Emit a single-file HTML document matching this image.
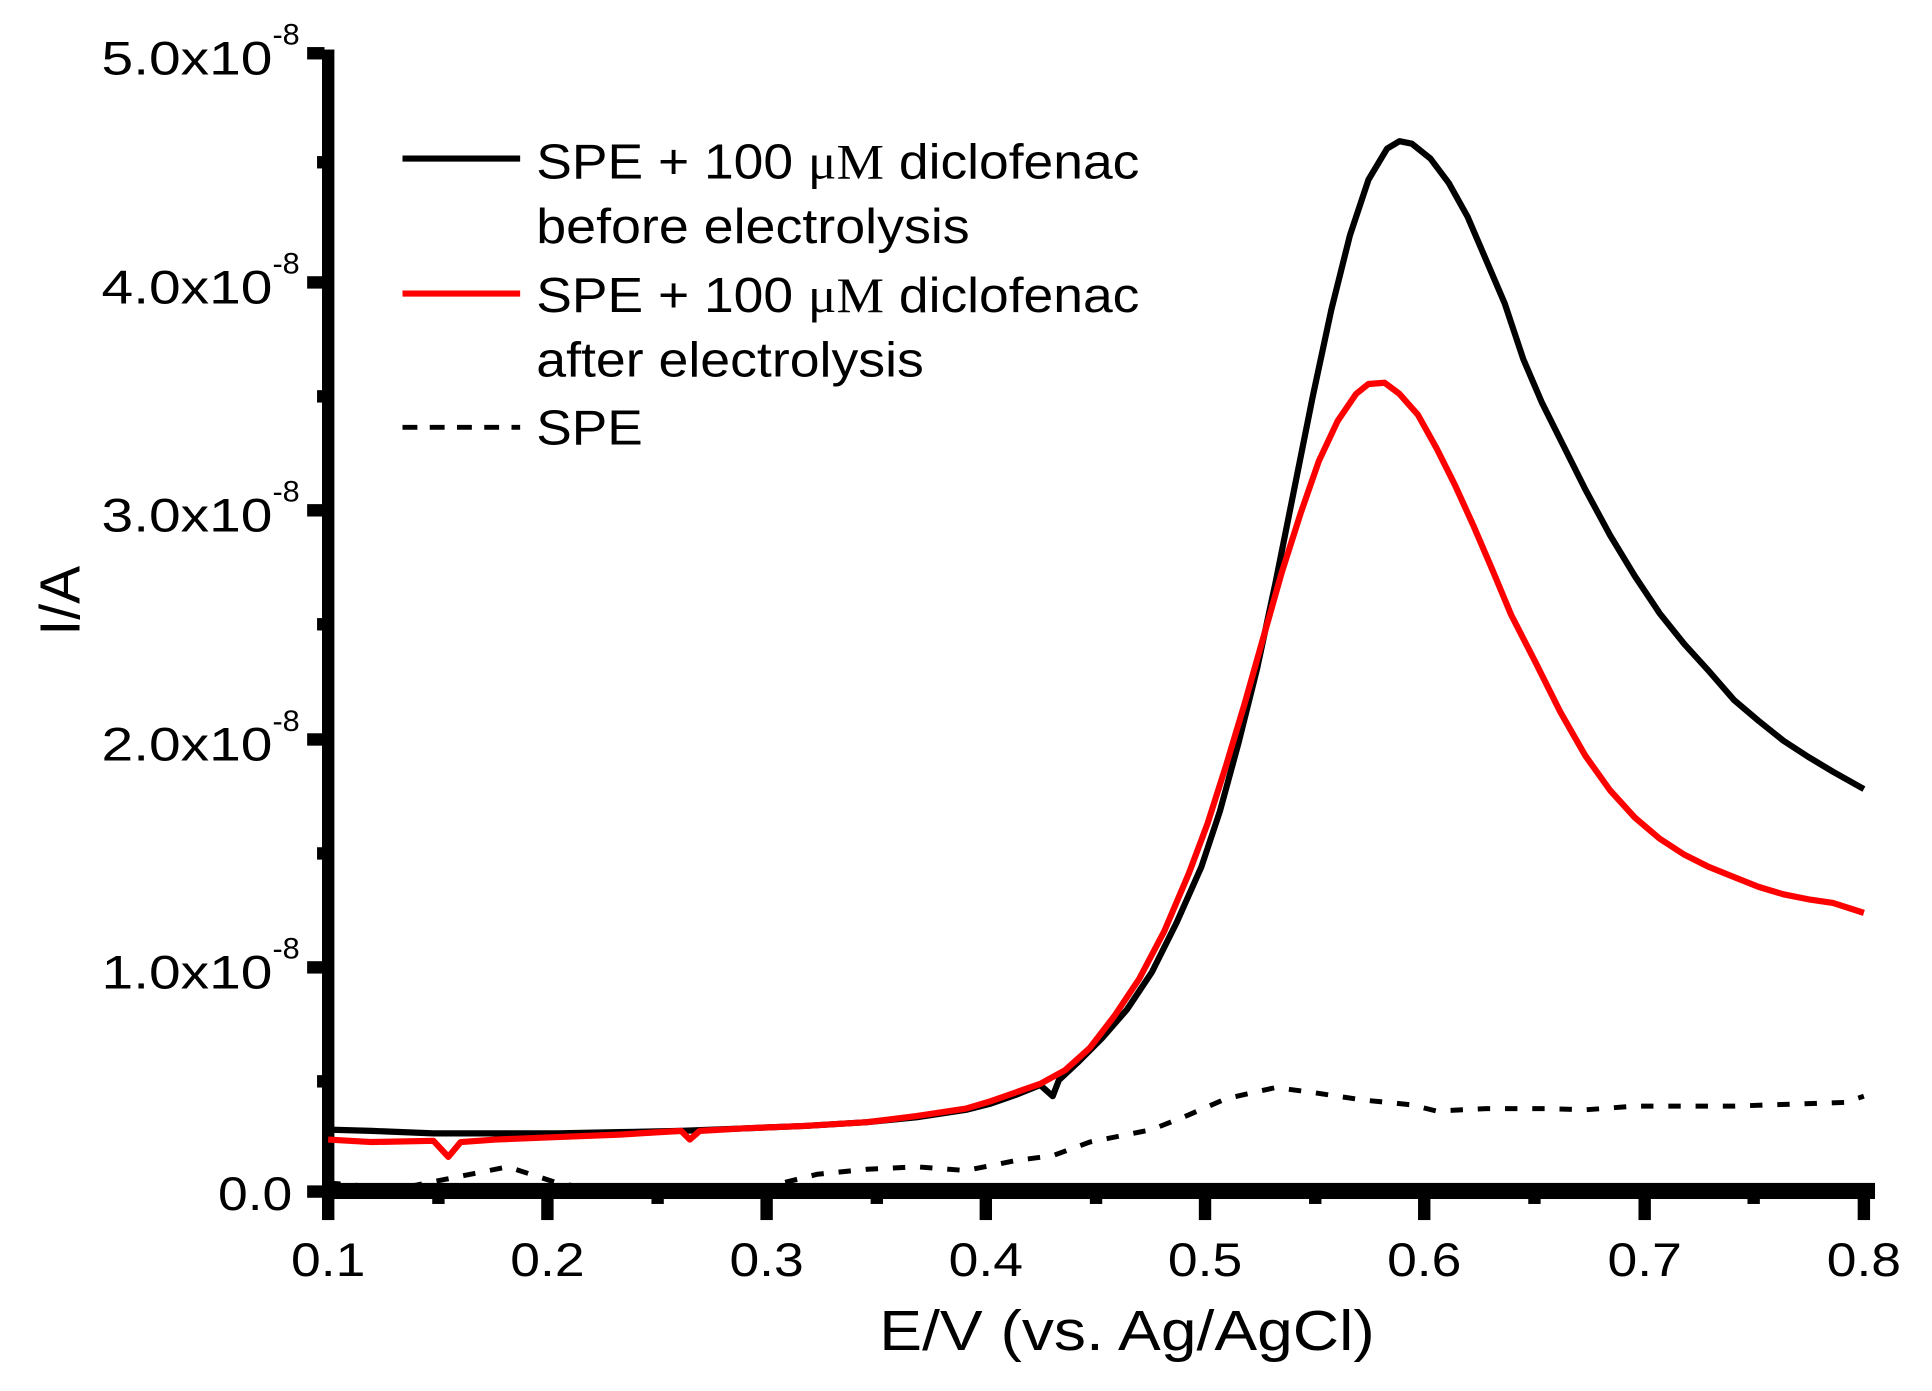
<!DOCTYPE html>
<html><head><meta charset="utf-8"><style>
html,body{margin:0;padding:0;background:#fff;}
svg{display:block;}
text{font-family:"Liberation Sans",Arial,sans-serif;fill:#000;}
</style></head><body>
<svg width="1932" height="1391" viewBox="0 0 1560 1123" preserveAspectRatio="none">
<rect x="260" y="40" width="10" height="928" fill="#000"/>
<rect x="260" y="955" width="1254" height="13" fill="#000"/>
<g fill="#000">
<rect x="248" y="38" width="14" height="10"/>
<rect x="248" y="223" width="14" height="10"/>
<rect x="248" y="407" width="14" height="10"/>
<rect x="248" y="592" width="14" height="10"/>
<rect x="248" y="776" width="14" height="10"/>
<rect x="248" y="957" width="14" height="10"/>
<rect x="256" y="126" width="5" height="10"/>
<rect x="256" y="315" width="5" height="10"/>
<rect x="256" y="499" width="5" height="10"/>
<rect x="256" y="684" width="5" height="10"/>
<rect x="256" y="868" width="5" height="10"/>
</g>
<g fill="#000">
<rect x="260" y="965" width="10" height="20"/>
<rect x="437" y="965" width="10" height="20"/>
<rect x="614" y="965" width="10" height="20"/>
<rect x="791" y="965" width="10" height="20"/>
<rect x="968" y="965" width="10" height="20"/>
<rect x="1145" y="965" width="10" height="20"/>
<rect x="1323" y="965" width="10" height="20"/>
<rect x="1500" y="965" width="10" height="20"/>
<rect x="349" y="965" width="10" height="7"/>
<rect x="526" y="965" width="10" height="7"/>
<rect x="703" y="965" width="10" height="7"/>
<rect x="880" y="965" width="10" height="7"/>
<rect x="1057" y="965" width="10" height="7"/>
<rect x="1234" y="965" width="10" height="7"/>
<rect x="1411" y="965" width="10" height="7"/>
</g>
<g font-size="38">
<text x="82" y="60" textLength="138" lengthAdjust="spacingAndGlyphs">5.0x10</text><text x="220" y="36" font-size="24" textLength="22" lengthAdjust="spacingAndGlyphs">-8</text>
<text x="82" y="245" textLength="138" lengthAdjust="spacingAndGlyphs">4.0x10</text><text x="220" y="221" font-size="24" textLength="22" lengthAdjust="spacingAndGlyphs">-8</text>
<text x="82" y="429" textLength="138" lengthAdjust="spacingAndGlyphs">3.0x10</text><text x="220" y="405" font-size="24" textLength="22" lengthAdjust="spacingAndGlyphs">-8</text>
<text x="82" y="614" textLength="138" lengthAdjust="spacingAndGlyphs">2.0x10</text><text x="220" y="590" font-size="24" textLength="22" lengthAdjust="spacingAndGlyphs">-8</text>
<text x="82" y="798" textLength="138" lengthAdjust="spacingAndGlyphs">1.0x10</text><text x="220" y="774" font-size="24" textLength="22" lengthAdjust="spacingAndGlyphs">-8</text>
<text x="176" y="977" textLength="60" lengthAdjust="spacingAndGlyphs">0.0</text>
</g>
<g font-size="38">
<text x="235" y="1030" textLength="60" lengthAdjust="spacingAndGlyphs">0.1</text>
<text x="412" y="1030" textLength="60" lengthAdjust="spacingAndGlyphs">0.2</text>
<text x="589" y="1030" textLength="60" lengthAdjust="spacingAndGlyphs">0.3</text>
<text x="766" y="1030" textLength="60" lengthAdjust="spacingAndGlyphs">0.4</text>
<text x="943" y="1030" textLength="60" lengthAdjust="spacingAndGlyphs">0.5</text>
<text x="1120" y="1030" textLength="60" lengthAdjust="spacingAndGlyphs">0.6</text>
<text x="1298" y="1030" textLength="60" lengthAdjust="spacingAndGlyphs">0.7</text>
<text x="1475" y="1030" textLength="60" lengthAdjust="spacingAndGlyphs">0.8</text>
</g>
<text x="710" y="1090" font-size="46" textLength="400" lengthAdjust="spacingAndGlyphs">E/V (vs. Ag/AgCl)</text>
<text transform="translate(64,485) rotate(-90)" font-size="46" text-anchor="middle">I/A</text>
<line x1="325" y1="128" x2="420" y2="128" stroke="#000" stroke-width="5"/>
<line x1="325" y1="237" x2="420" y2="237" stroke="#f00" stroke-width="5"/>
<line x1="325" y1="345" x2="420" y2="345" stroke="#000" stroke-width="4" stroke-dasharray="12,10"/>
<g font-size="40">
<text x="433" y="144" textLength="487" lengthAdjust="spacingAndGlyphs">SPE + 100 <tspan font-family="Liberation Serif,serif">μM</tspan> diclofenac</text>
<text x="433" y="196" textLength="350" lengthAdjust="spacingAndGlyphs">before electrolysis</text>
<text x="433" y="252" textLength="487" lengthAdjust="spacingAndGlyphs">SPE + 100 <tspan font-family="Liberation Serif,serif">μM</tspan> diclofenac</text>
<text x="433" y="304" textLength="313" lengthAdjust="spacingAndGlyphs">after electrolysis</text>
<text x="433" y="359" textLength="86" lengthAdjust="spacingAndGlyphs">SPE</text>
</g>
<polyline fill="none" stroke="#000" stroke-width="4" stroke-dasharray="10,12" points="265,955 300,958 330,958 360,952 410,942 450,955 490,962 560,963 620,958 660,948 700,944 740,942 780,945 820,937 850,933 880,922 930,912 960,900 990,887 1030,878 1060,882 1100,888 1140,892 1160,897 1200,895 1250,895 1280,896 1320,893 1400,893 1460,891 1490,890 1505,885"/>
<polyline fill="none" stroke="#000" stroke-width="5" stroke-linejoin="round" points="265,912 300,913 350,915 400,915 450,915 500,914 550,913 600,911 650,909 700,906 740,902 780,896 800,891 820,884 840,876 850,885 855,872 870,858 890,838 910,815 930,785 950,745 970,700 985,655 1000,600 1015,540 1030,470 1045,395 1060,320 1075,250 1090,190 1105,145 1120,120 1130,114 1140,116 1155,128 1170,148 1185,175 1200,210 1215,245 1230,290 1245,325 1260,355 1280,395 1300,432 1320,465 1340,495 1360,520 1380,542 1400,565 1420,582 1440,598 1460,611 1480,623 1505,637"/>
<polyline fill="none" stroke="#f00" stroke-width="5" stroke-linejoin="round" points="265,920 300,922 350,921 362,934 372,922 400,920 450,918 500,916 550,913 557,920 565,913 600,911 650,909 700,906 740,901 780,895 800,889 820,882 840,875 860,864 880,846 900,820 920,790 940,752 960,705 975,665 990,618 1005,568 1020,515 1035,462 1050,415 1065,372 1080,340 1095,318 1105,310 1118,309 1130,318 1145,335 1160,362 1175,392 1190,425 1205,460 1220,496 1240,535 1260,575 1280,610 1300,638 1320,660 1340,677 1360,690 1380,700 1400,708 1420,716 1440,722 1460,726 1480,729 1505,737"/>
</svg>
</body></html>
